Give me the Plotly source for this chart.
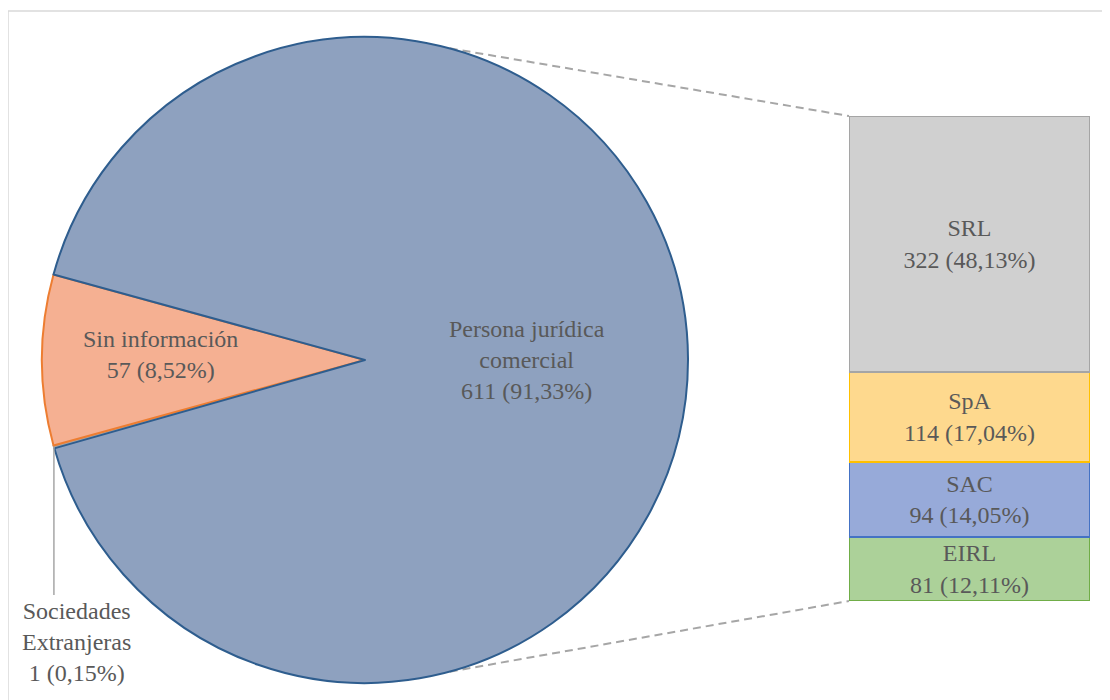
import math
import plotly.graph_objects as go

# ---------------- data ----------------
pie_labels = ["Sociedades<br>Extranjeras", "Sin información", "Persona jurídica<br>comercial"]
pie_values = [1, 57, 611]
bar_labels = ["EIRL", "SAC", "SpA", "SRL"]          # bottom -> top
bar_values = [81, 94, 114, 322]

# ---------------- style / layout ----------------
OFF = 8                       # page body margin
W, H = 1110 - OFF, 700 - OFF
FONT = "Liberation Serif, Times New Roman, serif"
TXT = "#595959"
FS = 24

pie_fill = ["#a5a5a5", "#f5b092", "#8ea1bf"]
pie_line = ["#a5a5a5", "#ed7d31", "#2e5d8e"]
bar_fill = ["#acd199", "#97aad9", "#fed98e", "#d0d0d0"]
bar_line = ["#70ad47", "#4472c4", "#ffc000", "#a5a5a5"]

total = sum(pie_values)

def pct(v):
    return f"{v / total * 100:.2f}".replace(".", ",") + "%"

def px2paper(x, y):
    # x, y in screen pixels of the reference image
    return (x - OFF) / W, 1 - (y - OFF) / H

# pie geometry (screen pixels)
cx, cy, r = 365, 360, 323
p0 = px2paper(cx - r, cy + r)
p1 = px2paper(cx + r, cy - r)
pie_dom_x = [p0[0], p1[0]]
pie_dom_y = [p0[1], p1[1]]

# rotation so that "Sin información" is centred at 9 o'clock (clockwise from 12)
rotation = 270 - 360 * (pie_values[0] + pie_values[1] / 2) / total

def circ(angle_deg, rr=r):
    a = math.radians(angle_deg)
    return cx + rr * math.sin(a), cy - rr * math.cos(a)

# bar geometry (screen pixels)
bx0, bx1, by_top, by_bot = 849, 1090, 116, 601
b0 = px2paper(bx0, by_bot)
b1 = px2paper(bx1, by_top)
bar_dom_x = [b0[0], b1[0]]
bar_dom_y = [b0[1], b1[1]]

fig = go.Figure()

fig.add_trace(go.Pie(
    labels=pie_labels, values=pie_values, sort=False, direction="clockwise",
    rotation=rotation, textinfo="none", hoverinfo="skip",
    marker=dict(colors=pie_fill, line=dict(color=pie_line, width=2)),
    domain=dict(x=pie_dom_x, y=pie_dom_y), showlegend=False,
))

for lab, val, fc, lc in zip(bar_labels, bar_values, bar_fill, bar_line):
    fig.add_trace(go.Bar(
        x=[0], y=[val], width=1, xaxis="x2", yaxis="y2",
        marker=dict(color=fc, line=dict(color=lc, width=2)),
        text=[f"{lab}<br>{val} ({pct(val)})"], textposition="inside",
        insidetextanchor="middle", textangle=0, constraintext="none",
        textfont=dict(family=FONT, size=FS, color=TXT),
        hoverinfo="skip", showlegend=False,
    ))

shapes = []
# chart border (top + left visible)
x0p, y1p = px2paper(8, 11)
shapes.append(dict(type="rect", xref="paper", yref="paper", x0=x0p, x1=1.02, y0=-0.02, y1=y1p,
                   line=dict(color="#d9d9d9", width=1.5), layer="below"))

# connector lines pie -> bar
for ang, (ex, ey) in [(15.2, (bx0, by_top)), (164.8, (bx0, by_bot))]:
    sx, sy = circ(ang)
    a0 = px2paper(sx, sy)
    a1 = px2paper(ex, ey)
    shapes.append(dict(type="line", xref="paper", yref="paper", x0=a0[0], y0=a0[1], x1=a1[0], y1=a1[1],
                       line=dict(color="#a6a6a6", width=2, dash="8px,5px"), layer="below"))

# leader line for tiny slice
soc_mid = rotation + 360 * (pie_values[0] / 2) / total
lx, ly = circ(soc_mid)
l0 = px2paper(lx, ly)
l1 = px2paper(lx, 595)
shapes.append(dict(type="line", xref="paper", yref="paper", x0=l0[0], y0=l0[1], x1=l1[0], y1=l1[1],
                   line=dict(color="#a6a6a6", width=1.5)))

annotations = []
def ann(text, x, y, yanchor="middle"):
    p = px2paper(x, y)
    annotations.append(dict(text=text, xref="paper", yref="paper", x=p[0], y=p[1],
                            xanchor="center", yanchor=yanchor, showarrow=False, align="center",
                            font=dict(family=FONT, size=FS, color=TXT)))

ann(f"{pie_labels[2]}<br>{pie_values[2]} ({pct(pie_values[2])})", 527, 360)
ann(f"{pie_labels[1]}<br>{pie_values[1]} ({pct(pie_values[1])})", 160, 354)
ann(f"{pie_labels[0]}<br>{pie_values[0]} ({pct(pie_values[0])})", 76, 596, yanchor="top")

fig.update_layout(
    width=W, height=H, margin=dict(l=0, r=0, t=0, b=0),
    paper_bgcolor="white", plot_bgcolor="rgba(0,0,0,0)",
    barmode="stack", bargap=0,
    xaxis2=dict(domain=bar_dom_x, range=[-0.5, 0.5], visible=False, fixedrange=True),
    yaxis2=dict(domain=bar_dom_y, range=[0, sum(bar_values)], visible=False, fixedrange=True),
    xaxis=dict(visible=False), yaxis=dict(visible=False),
    shapes=shapes, annotations=annotations,
    font=dict(family=FONT, color=TXT),
)

fig.write_html("out.html")
